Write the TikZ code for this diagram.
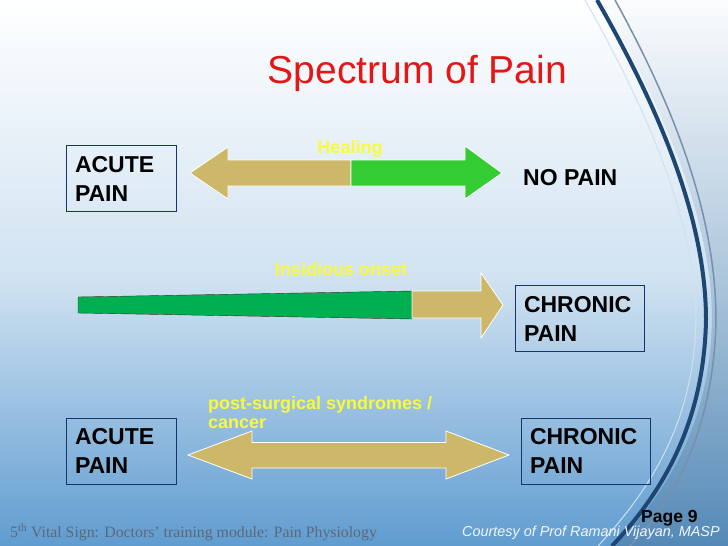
\documentclass[tikz,border=0pt]{standalone}
\usepackage{fontspec}
\setmainfont{Liberation Serif}
\setsansfont{Liberation Sans}
\usetikzlibrary{positioning,calc}

\definecolor{arrowtan}{RGB}{205,183,104}
\definecolor{healgreen}{RGB}{51,204,51}
\definecolor{onsetgreen}{RGB}{0,176,80}
\definecolor{labelyellow}{RGB}{250,250,60}
\definecolor{titlered}{RGB}{228,22,22}
\definecolor{boxblue}{RGB}{22,52,112}
\definecolor{bglight}{RGB}{208,226,241}
\definecolor{bgblue}{RGB}{96,156,208}
\definecolor{swooshblue}{RGB}{30,70,115}
\definecolor{footgray}{RGB}{92,104,120}

\begin{document}
\begin{tikzpicture}[x=1pt, y=-1pt, font=\sffamily]
	\tikzstyle{painbox}=[draw=boxblue, semithick, align=left, inner xsep=9pt, minimum height=66pt, font=\sffamily\bfseries\fontsize{23}{29}\selectfont]
	\tikzstyle{tag}=[text=labelyellow, font=\sffamily\bfseries\fontsize{18}{19}\selectfont, inner sep=0pt]
	\tikzstyle{block}=[draw=white, line width=0.8pt, line join=miter]
	\useasboundingbox (0,0) rectangle (728,546);
	% background
	\shade[top color=white, bottom color=bglight] (0,0) rectangle (728,280.5);
	\shade[top color=bglight, bottom color=bgblue] (0,280) rectangle (728,546);
	\shade[top color=white!90!bglight, bottom color=bgblue!85!black, opacity=0.8] (600,0) .. controls (665,110) and (712,220) .. (712,320) .. controls (710,420) and (670,490) .. (615,546) -- (728,546) -- (728,0) -- cycle;
	\draw[swooshblue, line width=4pt] (597,0) .. controls (660,110) and (706,220) .. (706,320) .. controls (704,420) and (665,490) .. (612,546);
	\draw[swooshblue!60, line width=1.5pt] (615,0) .. controls (670,100) and (716,210) .. (716,320) .. controls (714,420) and (680,495) .. (630,546);
	\draw[white!70!bgblue, line width=1pt] (585,0) .. controls (650,115) and (696,225) .. (696,320) .. controls (694,420) and (652,488) .. (598,546);
	% title
	\node[anchor=base, text=titlered, font=\sffamily\fontsize{39}{40}\selectfont] (title) at (417.5,83) {Spectrum of Pain};
	% row 1: healing
	\node[painbox, text width=92pt] (acute1) at (121,178.5) {ACUTE\\PAIN};
	\node[anchor=base west, inner sep=0pt, font=\sffamily\bfseries\fontsize{23}{29}\selectfont] (nopain) at (523,185) {NO PAIN};
	\fill[arrowtan, block] (190,173) -- (228,147) -- (228,160) -- (351,160) -- (351,186) -- (228,186) -- (228,199) -- cycle;
	\fill[healgreen, block] (351,160) -- (465,160) -- (465,146) -- (502,173) -- (465,199) -- (465,186) -- (351,186) -- cycle;
	\node[tag, anchor=base] (healing) at (350,153.5) {Healing};
	% row 2: insidious onset
	\node[painbox, text width=111pt] (chronic1) at (579.5,318.5) {CHRONIC\\PAIN};
	\filldraw[fill=onsetgreen, draw=black!80, thin] (78,297) -- (412,291) -- (412,319) -- (78,313) -- cycle;
	\fill[arrowtan, block] (412,291) -- (481,291) -- (481,273) -- (503,305) -- (481,338) -- (481,318) -- (412,318) -- cycle;
	\node[tag, anchor=base] (onset) at (341,275.5) {Insidious onset};
	% row 3: acute to chronic
	\node[painbox, text width=92pt] (acute2) at (121,451) {ACUTE\\PAIN};
	\node[painbox, text width=111pt] (chronic2) at (585.5,451) {CHRONIC\\PAIN};
	\fill[arrowtan, block] (188,455) -- (252,431) -- (252,442.5) -- (446,442.5) -- (446,431) -- (509,455) -- (446,479) -- (446,468) -- (252,468) -- (252,479) -- cycle;
	\node[tag, anchor=base west, align=left] (postsurg) at (208,428) {post-surgical syndromes /\\cancer};
	% footer
	\node[anchor=base west, inner sep=0pt, text=footgray, font=\rmfamily\fontsize{15.8}{16}\selectfont] (module) at (10,537) {5\textsuperscript{th} Vital Sign: Doctors’ training module: Pain Physiology};
	\node[anchor=base west, inner sep=0pt, text=white!92!bgblue, font=\sffamily\itshape\fontsize{14.4}{15}\selectfont] (courtesy) at (462,536) {Courtesy of Prof Ramani Vijayan, MASP};
	\node[anchor=base west, inner sep=0pt, font=\sffamily\bfseries\fontsize{17.5}{18}\selectfont] (page) at (641,522) {Page 9};
\end{tikzpicture}
\end{document}
